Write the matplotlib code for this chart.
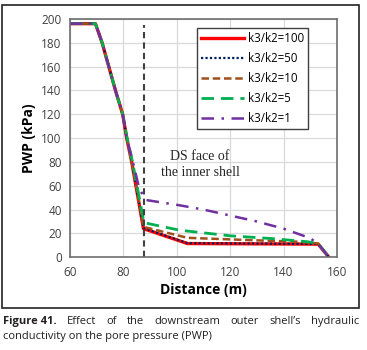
import matplotlib.pyplot as plt
from matplotlib.patches import Rectangle

x_100 = [60, 69.5, 72, 77, 79.7, 81.2, 83.1, 87.5, 104, 153, 157]
y_100 = [196, 196, 180, 140, 120, 100, 80, 24, 11.5, 11, 0]

x_50 = [60, 69.5, 72, 77, 79.7, 81.2, 83.1, 87.5, 104, 153, 157]
y_50 = [196, 196, 180, 140, 120, 100, 80, 24.5, 11.8, 11.2, 0]

x_10 = [60, 69.5, 72, 77, 79.7, 81.2, 83.1, 87.5, 104, 127, 146, 153, 157]
y_10 = [196, 196, 180, 140, 120, 100, 80, 25.5, 16.3, 14.4, 13, 11.5, 0]

x_5 = [60, 69.5, 72, 77, 79.7, 81.4, 83.4, 87.7, 101, 120, 136, 149, 153, 157]
y_5 = [196, 196, 180, 140, 120, 100, 80, 29, 22.7, 18, 15.6, 13, 11.5, 0]

x_1 = [60, 69.5, 72, 77, 79.7, 81.2, 83.3, 86, 88.5, 100, 110, 120, 130, 140, 150, 153, 157]
y_1 = [196, 196, 180, 140, 120, 100, 82, 57, 48, 44, 40, 35, 30, 24, 16, 11, 0]

labels = ['k3/k2=100', 'k3/k2=50', 'k3/k2=10', 'k3/k2=5', 'k3/k2=1']
ds_face = 87.7

plt.rcParams['font.family'] = ['Open Sans', 'DejaVu Sans']

fig = plt.figure(figsize=(3.67, 3.5), dpi=100)
ax = fig.add_axes([0.191, 0.265, 0.727, 0.681])

ax.plot(x_100, y_100, color='#FF0000', lw=2.4, ls='-', label=labels[0])
ax.plot(x_50, y_50, color='#002060', lw=1.6, ls=(0, (1, 1)), label=labels[1])
ax.plot(x_10, y_10, color='#A0501A', lw=1.8, ls=(0, (3, 1.5)), label=labels[2])
ax.plot(x_5, y_5, color='#00B050', lw=2.0, ls=(0, (4.5, 2.5)), label=labels[3])
ax.plot(x_1, y_1, color='#7030A0', lw=1.8, ls=(0, (5, 3, 1, 3)), label=labels[4])

ax.plot([ds_face, ds_face], [0, 195], color='#404040', lw=1.5, ls=(0, (3, 2)))
ax.text(108.7, 78, 'DS face of\nthe inner shell', family='Liberation Serif',
        fontsize=10, ha='center', va='center', linespacing=1.25, color='#262626')

ax.set_xlim(60, 160)
ax.set_ylim(0, 200)
ax.set_xticks(range(60, 161, 20))
ax.set_yticks(range(0, 201, 20))
ax.grid(True, color='#D9D9D9', lw=0.9)
ax.set_axisbelow(True)
ax.tick_params(length=0, labelsize=8.5, colors='#404040', pad=6)
for s in ax.spines.values():
    s.set_color('#6E6E6E')
    s.set_linewidth(1.2)

ax.set_xlabel('Distance (m)', fontsize=10, fontweight='bold', labelpad=3)
ax.set_ylabel('PWP (kPa)', fontsize=10, fontweight='bold', labelpad=4)

leg = ax.legend(loc='upper left', bbox_to_anchor=(0.475, 0.962), fontsize=8.3,
                handlelength=3.7, labelspacing=0.6, borderpad=0.35, fancybox=False,
                framealpha=1, edgecolor='#404040', handletextpad=0.4,
                borderaxespad=0)
leg.get_frame().set_linewidth(1.0)

# outer frame
fig.patches.append(Rectangle((0.005, 0.12), 0.973, 0.866, transform=fig.transFigure,
                             fill=False, ec='#222222', lw=1.2))

# caption, first line justified
words = ['Figure 41.', 'Effect', 'of', 'the', 'downstream', 'outer', 'shell’s', 'hydraulic']
cap_col = '#231F20'
texts = []
for i, w in enumerate(words):
    texts.append(fig.text(0, 1 - 321.5 / 350, w, fontsize=8, va='center', color=cap_col,
                          fontweight='bold' if i == 0 else 'normal'))
fig.canvas.draw()
r = fig.canvas.get_renderer()
widths = [t.get_window_extent(r).width for t in texts]
x0, x1 = 3, 359
gap = (x1 - x0 - sum(widths)) / (len(words) - 1)
pos = x0
for t, w in zip(texts, widths):
    t.set_x(pos / 367)
    pos += w + gap
fig.text(3 / 367, 1 - 337 / 350, 'conductivity on the pore pressure (PWP)', fontsize=8,
         va='center', color=cap_col)

fig.savefig('out.png', dpi=100)
